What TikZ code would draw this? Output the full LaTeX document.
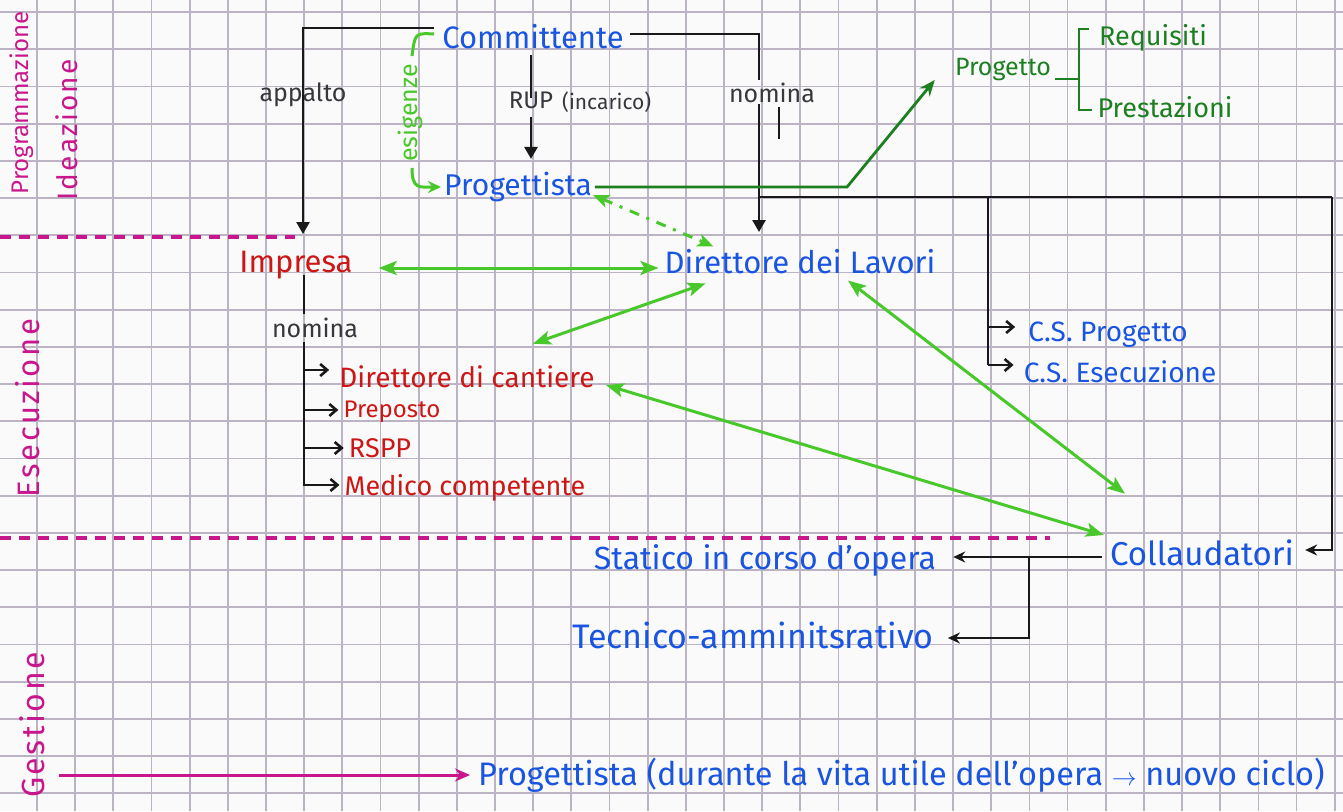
\documentclass[tikz,border=0pt]{standalone}
\usepackage{fontspec}
\setmainfont{Fira Sans}
\newfontfamily\phasefont[LetterSpace=8]{Fira Sans}
\usetikzlibrary{arrows.meta,calc}
\definecolor{paper}{RGB}{251,250,251}
\definecolor{gridc}{RGB}{188,180,196}
\definecolor{inkblue}{RGB}{25,85,225}
\definecolor{inkred}{RGB}{205,22,22}
\definecolor{inkdg}{RGB}{28,128,32}
\definecolor{inklg}{RGB}{72,200,42}
\definecolor{inkmag}{RGB}{200,22,140}
\definecolor{inkblk}{RGB}{25,25,25}
\definecolor{inkgrey}{RGB}{55,55,60}
\newcommand{\myfs}[1]{\fontsize{#1}{#1}\selectfont}
\tikzset{
  gridline/.style={draw=gridc, line width=1.8pt},
  txt/.style={inner sep=0pt, anchor=center},
  bluet/.style={txt, text=inkblue},
  redt/.style={txt, text=inkred},
  dgt/.style={txt, text=inkdg},
  smallt/.style={txt, text=inkgrey, font=\myfs{25}},
  phase/.style={txt, text=inkmag, rotate=90},
  blk/.style={draw=inkblk, line width=2.6pt},
  bigtip/.style={-{Triangle[length=12pt,width=13pt]}},
  barb/.style={-{Straight Barb[length=7pt,width=12pt]}},
  ltip/.style={-{Stealth[length=12pt,width=11pt]}},
  lgarrow/.style={draw=inklg, line width=3pt,
    {Stealth[length=18pt,width=14pt,inset=4pt]}-{Stealth[length=18pt,width=14pt,inset=4pt]}},
  lgline/.style={draw=inklg, line width=3pt},
  dgline/.style={draw=inkdg, line width=2.8pt},
  mdash/.style={draw=inkmag, line width=3.2pt, dash pattern=on 11pt off 8pt},
}
\begin{document}
\begin{tikzpicture}[x=1pt,y=-1pt]
\useasboundingbox (0,0) rectangle (1343,811);
\fill[paper] (0,0) rectangle (1343,811);
% grid
\foreach \k in {0,...,35} \draw[gridline] ({-1.2+38.17*\k},0) -- ({-1.2+38.17*\k},811);
\foreach \k in {0,...,21} \draw[gridline] (0,{12+37.2*\k}) -- (1343,{12+37.2*\k});

% phase labels
\node[phase, font=\myfs{24}] (pprog) at (22,103) {Programmazione};
\node[phase, font={\phasefont\myfs{28}}] (pidea) at (67,130) {Ideazione};
\node[phase, font={\phasefont\myfs{31}}] (pesec) at (28,408) {Esecuzione};
\node[phase, font={\phasefont\myfs{32}}] (pgest) at (32,725) {Gestione};
\draw[mdash] (0,237) -- (295,237);
\draw[mdash] (0,538) -- (1050,538);

% main nodes
\node[bluet, font=\myfs{31}] (comm) at (533,37) {Committente};
\node[bluet, font=\myfs{30}] (prog) at (518,187) {Progettista};
\node[redt, font=\myfs{31}] (imp) at (296,265) {Impresa};
\node[bluet, font=\myfs{31}] (dl) at (800,262) {Direttore dei Lavori};
\node[redt, font=\myfs{28}] (dc) at (467,377) {Direttore di cantiere};
\node[redt, font=\myfs{24}] (prep) at (392,412) {Preposto};
\node[redt, font=\myfs{27}] (rspp) at (380,448) {RSPP};
\node[redt, font=\myfs{27}] (med) at (465,488) {Medico competente};
\node[bluet, font=\myfs{28}] (cspr) at (1108,335) {C.S. Progetto};
\node[bluet, font=\myfs{28}] (csex) at (1120,372) {C.S. Esecuzione};
\node[bluet, font=\myfs{33}] (coll) at (1202,553) {Collaudatori};
\node[bluet, font=\myfs{32}] (stat) at (765,560) {Statico in corso d'opera};
\node[bluet, font=\myfs{34}] (tecn) at (753,635) {Tecnico-amminitsrativo};
\node[dgt, font=\myfs{25}] (pgt) at (1003,70) {Progetto};
\node[dgt, font=\myfs{27}] (req) at (1153,38) {Requisiti};
\node[dgt, font=\myfs{27}] (pre) at (1165,107) {Prestazioni};
\node[bluet, font=\myfs{32.5}, anchor=west] (prog2) at (478,775) {Progettista (durante la vita utile dell'opera \ensuremath{\rightarrow} nuovo ciclo)};

% small labels
\node[smallt] (lapp) at (303,95) {appalto};
\node[smallt] (lnom) at (772,93) {nomina};
\node[smallt] (lnom2) at (315,328) {nomina};
\node[txt, text=inkgrey, font=\myfs{24}] (lrup) at (531,100) {RUP};
\node[txt, text=inkgrey, font=\myfs{21}, anchor=west] (linc) at (562,102) {(incarico)};
\node[txt, text=inklg, font=\myfs{25}, rotate=90] (lesi) at (410,113) {esigenze};

% coordinates for bends / free ends
\coordinate (impin) at (303,234);
\coordinate (nomA) at (759,80);
\coordinate (nomB) at (759,104);
\coordinate (dlin) at (759,232);
\coordinate (nj) at (759,197);
\coordinate (rj) at (1332,197);
\coordinate (cj) at (988,197);
\coordinate (sj) at (1029,557);

% appalto
\draw[blk, bigtip] ($(comm.west)+(-8,-9)$) -| (impin);
% nomina (Committente -> DL)
\draw[blk] ($(comm.east)+(6,-3)$) -| (nomA);
\draw[blk, bigtip] (nomB) -- (dlin);
\draw[blk] ($(lnom.south)+(7,4)$) -- ++(0,32);
% RUP
\draw[blk] ($(comm.south)+(-2,6)$) -- ($(lrup.center)+(0,-2)$);
\draw[blk, bigtip] ($(lrup.south)+(0,8)$) -- ($(prog.north)+(13,-13)$);
% branch to CS and Collaudatori
\draw[blk] (nj) -- (rj);
\draw[blk, ltip] (rj) |- ($(coll.east)+(11,-3)$);
\draw[blk] (cj) -- (988,365);
\draw[blk, barb] (988,327) -- ($(cspr.west)+(-13,-8)$);
\draw[blk, barb] (988,365) -- ($(csex.west)+(-10,-7)$);
% Impresa nomina
\draw[blk] ($(imp.south)+(8,-4)$) -- ($(lnom2.north)+(-11,-4)$);
\draw[blk] ($(lnom2.south)+(-11,4)$) -- (304,486);
\draw[blk, barb] (304,370) -- ($(dc.west)+(-10,-7)$);
\draw[blk, barb] (304,410) -- ($(prep.west)+(-5,-2)$);
\draw[blk, barb] (304,448) -- ($(rspp.west)+(-5,0)$);
\draw[blk, barb] (304,485) -- ($(med.west)+(-5,-3)$);
% Collaudatori -> types
\draw[blk, ltip] ($(coll.west)+(-8,4)$) -- ($(stat.east)+(17,-3)$);
\draw[blk, ltip] (sj) |- ($(tecn.east)+(14,3)$);

% esigenze
\draw[lgline] ($(comm.west)+(-8,-3)$) .. controls (415,33) .. ($(lesi.east)+(2,-8)$);
\draw[lgline, -{Stealth[length=13pt,width=12pt]}] ($(lesi.west)+(2,6)$) .. controls (412,190) and (420,187) .. ($(prog.west)+(-3,0)$);

% Progettista -> Progetto
\draw[dgline, -{Stealth[length=16pt,width=13pt]}] ($(prog.east)+(3,0)$) -- (847,187) -- ($(pgt.west)+(-20,10)$);
\draw[dgline] ($(pgt.east)+(4,9)$) -- (1079,79);
\draw[dgline] ($(req.west)+(-10,-9)$) -- (1079,29) -- (1079,110) -- ($(pre.west)+(-5,3)$);

% green relations
\draw[lgarrow] ($(imp.east)+(26,3)$) -- ($(dl.west)+(-6,6)$);
\draw[lgarrow] ($(dl.south west)+(41,9)$) -- ($(dc.north)+(66,-22)$);
\draw[lgarrow] ($(dl.south)+(48,6)$) -- ($(coll.north)+(-77,-46)$);
\draw[lgarrow] ($(dc.east)+(11,8)$) -- ($(coll.west)+(-6,-18)$);
\draw[lgline, dash pattern=on 10pt off 8pt on 3pt off 8pt,
  {Stealth[length=16pt,width=13pt,inset=4pt]}-{Stealth[length=16pt,width=13pt,inset=4pt]}]
  ($(prog.east)+(1,8)$) -- ($(dl.north west)+(49,-3)$);

% Gestione arrow
\draw[draw=inkmag, line width=3pt, -{Stealth[length=15pt,width=13pt]}] ($(pgest.south)+(14,50)$) -- ($(prog2.west)+(-8,0)$);
\end{tikzpicture}
\end{document}
